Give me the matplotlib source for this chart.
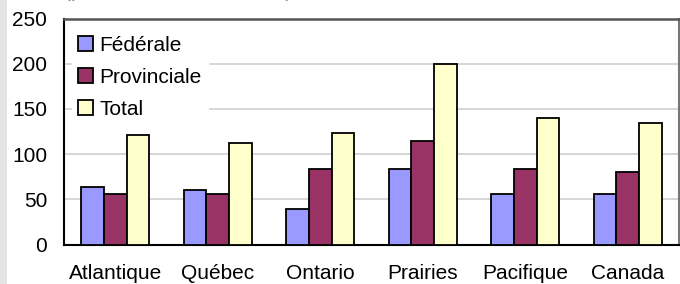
import numpy as np
import matplotlib
matplotlib.use("Agg")
from matplotlib import pyplot as plt
from matplotlib.patches import Rectangle

regions = ["Atlantique", "Québec", "Ontario", "Prairies", "Pacifique", "Canada"]
federale = [64, 60, 40, 84, 56, 56]
provinciale = [56, 56, 84, 115, 84, 80]
total = [121, 112, 124, 200, 140, 135]
y_ticks = [0, 50, 100, 150, 200, 250]

plt.rcParams['font.family'] = ['Liberation Sans', 'DejaVu Sans']
plt.rcParams['font.size'] = 15

fig = plt.figure(figsize=(6.8, 2.84), dpi=100)
# gray strip on the left edge
fig.patches.append(Rectangle((0, 0), 7/680, 1, transform=fig.transFigure,
                             facecolor="#e4e4e4", edgecolor="none", zorder=0))
# title that is cut off at the top
fig.text(64/680, 1 + 3/284, "(pour 100 000 habitants)", color="#888888",
         fontsize=15, va="baseline", ha="left")

ax = fig.add_axes([64/680, 1 - 244.7/284, 615/680, (244.7 - 18.5)/284])

x = np.arange(len(regions))
w = 0.22
ax.bar(x - w, federale, w, color="#9999ff", edgecolor="black", linewidth=1.3,
       label="Fédérale", zorder=3)
ax.bar(x, provinciale, w, color="#993366", edgecolor="black", linewidth=1.3,
       label="Provinciale", zorder=3)
ax.bar(x + w, total, w, color="#ffffcc", edgecolor="black", linewidth=1.3,
       label="Total", zorder=3)

ax.set_xlim(-0.5, len(regions) - 0.5)
ax.set_ylim(0, 250)
ax.set_yticks(y_ticks)
ax.set_xticks(x)
ax.set_xticklabels(regions)
ax.tick_params(axis="x", length=0, pad=14, labelsize=15)
ax.tick_params(axis="y", length=0, pad=12, labelsize=15)
ax.yaxis.grid(True, color="#d0d0d0", linewidth=1.2, zorder=0)
ax.set_axisbelow(True)

ax.spines["left"].set_color("black")
ax.spines["bottom"].set_color("black")
ax.spines["left"].set_linewidth(1.5)
ax.spines["bottom"].set_linewidth(1.5)
ax.spines["top"].set_color("#555555")
ax.spines["right"].set_color("#777777")
ax.spines["top"].set_linewidth(1.8)
ax.spines["right"].set_linewidth(1.5)

leg = ax.legend(loc="upper left", bbox_to_anchor=(8/615, 0.95), frameon=True,
                fancybox=False, framealpha=1, edgecolor="white",
                fontsize=15, handlelength=0.7, handleheight=0.7,
                handletextpad=0.3, labelspacing=0.62, borderpad=0.3,
                borderaxespad=0)
leg.set_zorder(5)

fig.savefig("out.png", dpi=100)
